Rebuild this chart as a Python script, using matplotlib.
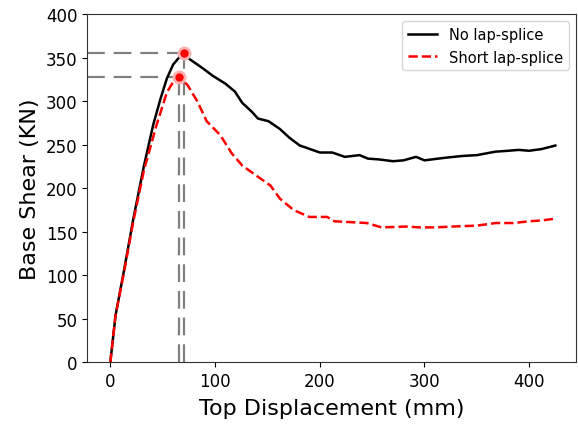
import matplotlib
matplotlib.use("Agg")
import matplotlib.pyplot as plt

# No lap-splice (black solid)
x_no = [0, 5, 13, 22, 32, 41, 48, 54, 60, 67, 70, 76, 88, 98, 110, 119, 126, 135, 141, 151, 162, 171, 181, 186, 200,
        212, 224, 238, 246, 257, 270, 280, 292, 300, 320, 336, 350, 368, 380, 390, 400, 412, 425]
y_no = [0, 54, 105, 165, 225, 273, 303, 326, 342, 352, 355, 348, 338, 329, 320, 311, 298, 288, 280, 277, 268, 258, 249, 247, 241,
        241, 236, 238, 234, 233, 231, 232, 236, 232, 235, 237, 238, 242, 243, 244, 243, 245, 249]

# Short lap-splice (red dashed)
x_sh = [0, 5, 13, 22, 32, 44, 54, 60, 66, 74, 83, 92, 105, 116, 126, 140, 153, 162, 175, 190, 207, 214, 230,
        245, 259, 283, 295, 310, 327, 350, 368, 385, 400, 412, 425]
y_sh = [0, 54, 103, 162, 220, 272, 310, 322, 328, 318, 300, 277, 261, 240, 226, 214, 203, 188, 175, 167, 167, 162, 161,
        160, 155, 156, 155, 155, 156, 157, 160, 160, 162, 163, 165]

peak_no = (70, 355)
peak_sh = (66, 328)

fig = plt.figure(figsize=(5.78, 4.31), dpi=100)
ax = fig.add_axes([0.151, 0.157, 0.846, 0.808])

ax.plot(x_no, y_no, color='black', lw=1.8, label='No lap-splice')
ax.plot(x_sh, y_sh, color='red', lw=1.8, ls='--', label='Short lap-splice')

ax.set_xlim(-22, 445)
ax.set_ylim(0, 400)

gray = '#808080'
for px, py in (peak_no, peak_sh):
    ax.plot([-22, px], [py, py], color=gray, lw=1.6, ls=(0, (8, 4)), zorder=1)
    ax.plot([px, px], [0, py], color=gray, lw=1.6, ls=(0, (8, 4)), zorder=1)
    ax.plot(px, py, 'o', color='red', ms=8, mec='#ffb0b0', mew=2, zorder=5)

ax.set_xticks([0, 100, 200, 300, 400])
ax.set_yticks(range(0, 401, 50))
ax.tick_params(labelsize=12)
for s in ax.spines.values():
    s.set_color('#333333')
ax.set_xlabel('Top Displacement (mm)', fontsize=16, labelpad=6)
ax.set_ylabel('Base Shear (KN)', fontsize=16)
ax.legend(loc='upper right', fontsize=10.5)

fig.savefig('out.png', dpi=100)
